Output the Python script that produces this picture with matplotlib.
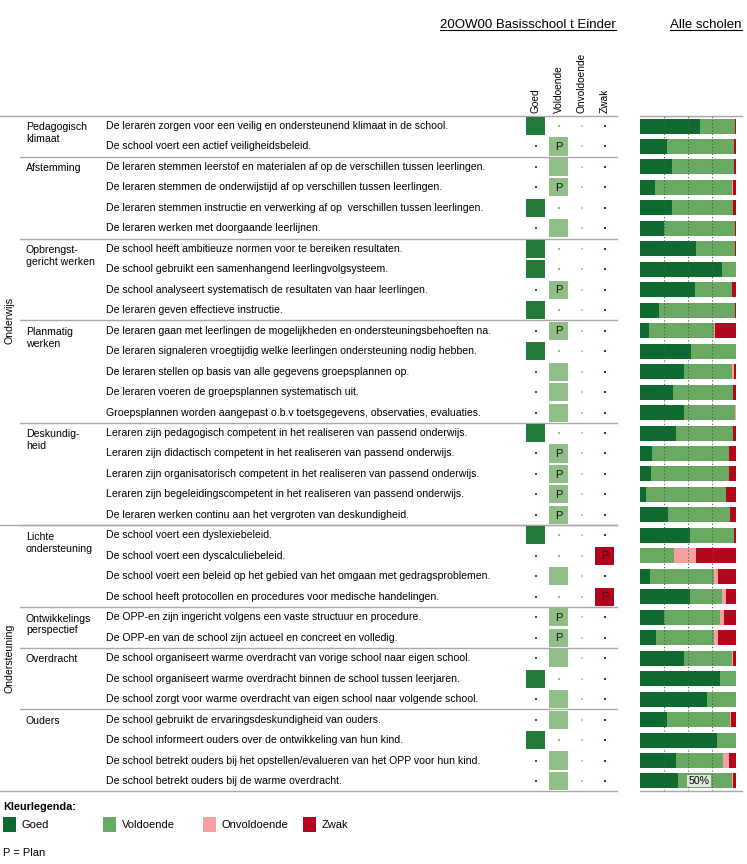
import matplotlib
matplotlib.use("Agg")
import matplotlib.pyplot as plt
from matplotlib.patches import Rectangle
from matplotlib.transforms import blended_transform_factory
import numpy as np

plt.rcParams['font.family'] = ['Liberation Sans', 'DejaVu Sans']

# ---------------- data ----------------
title_school = "20OW00 Basisschool t Einder"
title_all = "Alle scholen"
sections = ["Onderwijs", "Ondersteuning"]
section_sizes = [20, 13]
categories = ["Pedagogisch\nklimaat", "Afstemming", "Opbrengst-\ngericht werken",
              "Planmatig\nwerken", "Deskundig-\nheid", "Lichte\nondersteuning",
              "Ontwikkelings\nperspectief", "Overdracht", "Ouders"]
category_sizes = [2, 4, 4, 5, 5, 4, 2, 3, 4]
statements = [
    "De leraren zorgen voor een veilig en ondersteunend klimaat in de school.",
    "De school voert een actief veiligheidsbeleid.",
    "De leraren stemmen leerstof en materialen af op de verschillen tussen leerlingen.",
    "De leraren stemmen de onderwijstijd af op verschillen tussen leerlingen.",
    "De leraren stemmen instructie en verwerking af op  verschillen tussen leerlingen.",
    "De leraren werken met doorgaande leerlijnen.",
    "De school heeft ambitieuze normen voor te bereiken resultaten.",
    "De school gebruikt een samenhangend leerlingvolgsysteem.",
    "De school analyseert systematisch de resultaten van haar leerlingen.",
    "De leraren geven effectieve instructie.",
    "De leraren gaan met leerlingen de mogelijkheden en ondersteuningsbehoeften na.",
    "De leraren signaleren vroegtijdig welke leerlingen ondersteuning nodig hebben.",
    "De leraren stellen op basis van alle gegevens groepsplannen op.",
    "De leraren voeren de groepsplannen systematisch uit.",
    "Groepsplannen worden aangepast o.b.v toetsgegevens, observaties, evaluaties.",
    "Leraren zijn pedagogisch competent in het realiseren van passend onderwijs.",
    "Leraren zijn didactisch competent in het realiseren van passend onderwijs.",
    "Leraren zijn organisatorisch competent in het realiseren van passend onderwijs.",
    "Leraren zijn begeleidingscompetent in het realiseren van passend onderwijs.",
    "De leraren werken continu aan het vergroten van deskundigheid.",
    "De school voert een dyslexiebeleid.",
    "De school voert een dyscalculiebeleid.",
    "De school voert een beleid op het gebied van het omgaan met gedragsproblemen.",
    "De school heeft protocollen en procedures voor medische handelingen.",
    "De OPP-en zijn ingericht volgens een vaste structuur en procedure.",
    "De OPP-en van de school zijn actueel en concreet en volledig.",
    "De school organiseert warme overdracht van vorige school naar eigen school.",
    "De school organiseert warme overdracht binnen de school tussen leerjaren.",
    "De school zorgt voor warme overdracht van eigen school naar volgende school.",
    "De school gebruikt de ervaringsdeskundigheid van ouders.",
    "De school informeert ouders over de ontwikkeling van hun kind.",
    "De school betrekt ouders bij het opstellen/evalueren van het OPP voor hun kind.",
    "De school betrekt ouders bij de warme overdracht.",
]
levels = ["Goed", "Voldoende", "Onvoldoende", "Zwak"]
school_rating = ["Goed", "Voldoende", "Voldoende", "Voldoende", "Goed", "Voldoende",
                 "Goed", "Goed", "Voldoende", "Goed",
                 "Voldoende", "Goed", "Voldoende", "Voldoende", "Voldoende",
                 "Goed", "Voldoende", "Voldoende", "Voldoende", "Voldoende",
                 "Goed", "Zwak", "Voldoende", "Zwak",
                 "Voldoende", "Voldoende",
                 "Voldoende", "Goed", "Voldoende",
                 "Voldoende", "Goed", "Voldoende", "Voldoende"]
school_plan = [0, 1, 0, 1, 0, 0,
               0, 0, 1, 0,
               1, 0, 0, 0, 0,
               0, 1, 1, 1, 1,
               0, 1, 0, 1,
               1, 1,
               0, 0, 0,
               0, 0, 0, 0]
all_goed = [62, 28, 33, 16, 33, 25, 58, 85, 57, 20, 9, 53, 46, 34, 46, 37.5, 12.5, 11.5, 6, 29,
            52, 0.5, 10.5, 52, 25.5, 16.5, 46, 83, 70, 28, 80, 38, 40]
all_voldoende = [37, 70, 65, 80, 63.5, 74, 41, 14.5, 39, 79, 68, 46.5, 50, 62.5, 52.5, 59, 80, 81, 84, 64.5,
                 46, 35, 66.5, 33.5, 57.5, 61, 50, 16.5, 29.5, 65.5, 19.5, 48, 56]
all_onvoldoende = [0, 0, 0, 0.5, 0, 0, 0, 0, 0, 0, 1.5, 0, 1.5, 0, 1, 0, 0, 0, 0, 0,
                   0, 23, 4, 4, 4.5, 4, 0.5, 0, 0, 1, 0, 6.5, 1]
all_zwak = [1, 2, 2, 3.5, 3.5, 1, 1, 0.5, 4, 1, 21.5, 0.5, 2.5, 3.5, 0.5, 3.5, 7.5, 7.5, 10, 6.5,
            2, 41.5, 19, 10.5, 12.5, 18.5, 3.5, 0.5, 0.5, 5.5, 0.5, 7.5, 3]
grid_ticks = [25, 50, 75]

# ---------------- style ----------------
W, H = 747, 864
bar_colors = ['#0E6A2F', '#6AA962', '#F6A1A1', '#B2071C']
cell_colors = ['#247A3B', '#91BD86', '#F6A1A1', '#B0051B']
dot_colors = ['#2E5E3C', '#8CBF86', '#E8B3BD', '#7A1230']
line_col = '#A8A8A8'
fs = 7.6

fig = plt.figure(figsize=(W / 100, H / 100), dpi=100)
main = fig.add_axes([0, 0, 1, 1])
main.set_xlim(0, W)
main.set_ylim(H, 0)
main.axis('off')

y_top, y_bot = 115.8, 791.2
n = len(statements)

def fx(x):
    return x / W

def fy(y):
    return 1 - y / H

ax_tab = fig.add_axes([fx(524), fy(y_bot), (616 - 524) / W, (y_bot - y_top) / H])
ax_tab.set_xlim(-0.5, 3.5)
ax_tab.set_ylim(n - 0.5, -0.5)
ax_tab.axis('off')

ax_bar = fig.add_axes([fx(640), fy(y_bot), 96 / W, (y_bot - y_top) / H])
ax_bar.set_xlim(0, 100)
ax_bar.set_ylim(n - 0.5, -0.5)
ax_bar.axis('off')

rows = np.arange(n)
tr = blended_transform_factory(main.transData, ax_tab.transData)

# headers
t1 = main.text(528, 25, title_school, ha='center', va='center', fontsize=9.5)
t2 = main.text(706, 25, title_all, ha='center', va='center', fontsize=9.5)
for j, lev in enumerate(levels):
    ax_tab.text(j, -0.62, lev, rotation=90, ha='center', va='bottom', fontsize=7.3)

# statements and category labels
for i, s in enumerate(statements):
    main.text(106, i, s, transform=tr, ha='left', va='center', fontsize=fs)

start = 0
for cat, size in zip(categories, category_sizes):
    main.text(26, start - 0.18, cat, transform=tr, ha='left', va='top', fontsize=fs,
              linespacing=1.24)
    if start > 0:
        main.plot([20, 617], [start - 0.5, start - 0.5], transform=tr, color=line_col, lw=1)
    start += size

start = 0
for sec, size in zip(sections, section_sizes):
    main.text(10, start + size / 2 - 0.5, sec, transform=tr, rotation=90,
              ha='center', va='center', fontsize=fs)
    main.plot([0, 617], [start - 0.5, start - 0.5], transform=tr, color=line_col, lw=1)
    start += size
main.plot([0, 617], [n - 0.5, n - 0.5], transform=tr, color=line_col, lw=1)

# table cells
for i in rows:
    col = levels.index(school_rating[i])
    ax_tab.bar(col, 0.88, bottom=i - 0.44, width=0.83, color=cell_colors[col], lw=0)
    if school_plan[i]:
        pcol = '#5A0010' if school_rating[i] == "Zwak" else '#111111'
        ax_tab.text(col, i + 0.03, "P", ha='center', va='center', fontsize=8, color=pcol)
    for j in range(4):
        if j != col:
            ax_tab.scatter(j, i, marker='s', s=2.2, color=dot_colors[j], lw=0)

# stacked bars (all schools)
left = np.zeros(n)
for vals, c in zip([all_goed, all_voldoende, all_onvoldoende, all_zwak], bar_colors):
    v = np.array(vals, dtype=float)
    ax_bar.barh(rows, v, left=left, height=0.73, color=c, lw=0)
    left += v
for g in grid_ticks:
    ax_bar.axvline(g, color='#555555', lw=0.8, ls=(0, (1, 2)), zorder=5)
ax_bar.text(50.5, n - 1, "50%", ha='left', va='center', fontsize=fs, zorder=6,
            bbox=dict(boxstyle='square,pad=0.12', fc='#DDE8DA', ec='none'))
main.plot([640, 742], [y_top, y_top], color=line_col, lw=1)
main.plot([640, 742], [y_bot, y_bot], color=line_col, lw=1)

# legend
main.text(3, 807, "Kleurlegenda:", ha='left', va='center', fontsize=7.8, fontweight='bold')
for k, (lev, c) in enumerate(zip(levels, bar_colors)):
    x0 = 3 + 100 * k
    main.add_patch(Rectangle((x0, 817), 13, 15, color=c, lw=0))
    main.text(x0 + 19, 824.5, lev, ha='left', va='center', fontsize=8)
main.text(3, 853, "P = Plan", ha='left', va='center', fontsize=8)

# underline the headers
fig.canvas.draw()
inv = main.transData.inverted()
for t in (t1, t2):
    bb = t.get_window_extent()
    (xa, ya), (xb, yb) = inv.transform([[bb.x0, bb.y0], [bb.x1, bb.y1]])
    main.plot([xa, xb], [max(ya, yb) - 1, max(ya, yb) - 1], color='black', lw=0.8)

fig.savefig("out.png", dpi=100)
